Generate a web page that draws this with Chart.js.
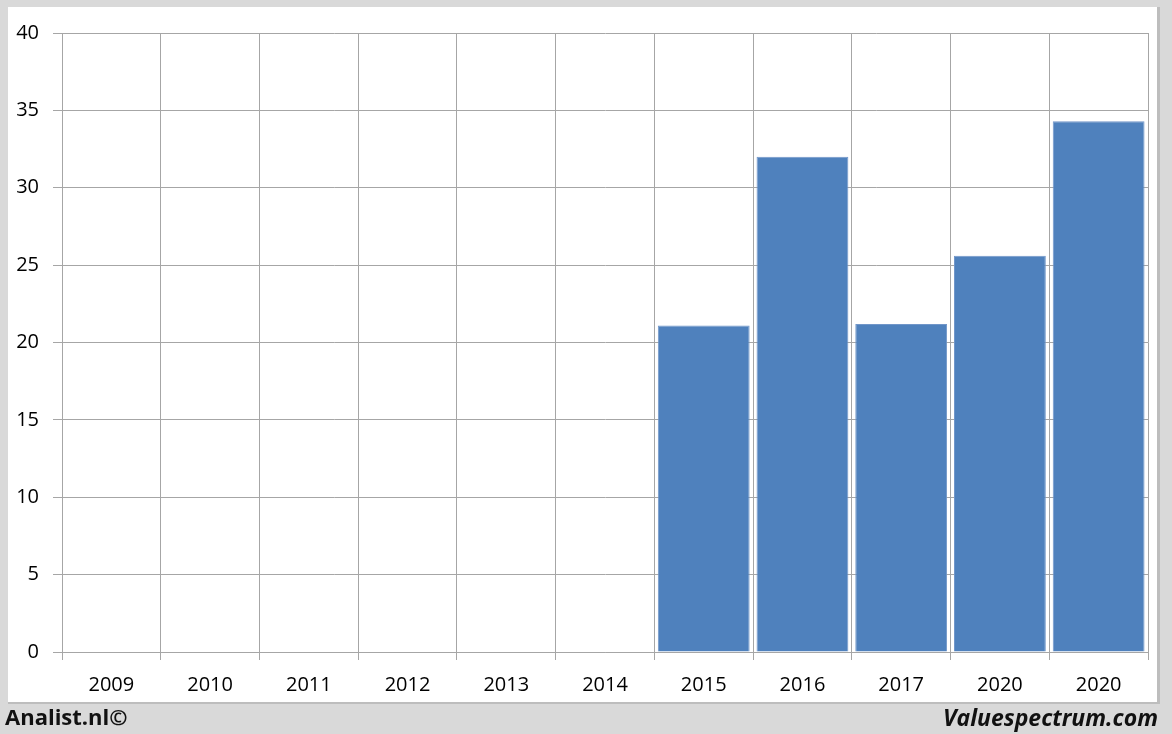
<!DOCTYPE html>
<html>
<head>
<meta charset="utf-8">
<script src="https://cdn.jsdelivr.net/npm/chart.js@4"></script>
<style>
    html, body { margin: 0; padding: 0; }
    body { width: 1172px; height: 734px; background: #d9d9d9; position: relative; overflow: hidden; font-family: "Open Sans", "Noto Sans", sans-serif; }
    #panel { position: absolute; left: 8px; top: 7px; width: 1149px; height: 695px; background: #fff; border-right: 3px solid #bdbdbd; border-bottom: 2px solid #bdbdbd; box-sizing: content-box; }
    #wrap { position: absolute; left: 0; top: 0; width: 1172px; height: 734px; }
    .pie { position: absolute; top: 701px; font-weight: bold; font-size: 22px; color: #111; }
    #izq { left: 5px; }
    #der { right: 14px; font-style: italic; font-size: 23px; }
</style>
</head>
<body>
<div id="panel"></div>
<div id="wrap"><canvas id="grafica" width="1172" height="734"></canvas></div>
<div class="pie" id="izq">Analist.nl©</div>
<div class="pie" id="der">Valuespectrum.com</div>
<script>
// Datos
const anios = ['2009', '2010', '2011', '2012', '2013', '2014', '2015', '2016', '2017', '2020', '2020'];
const valores = [null, null, null, null, null, null, 21.1, 32.0, 21.2, 25.6, 34.3];
const ticksY = [0, 5, 10, 15, 20, 25, 30, 35, 40];

const colorGrid = '#a6a6a6';
const fuenteTicks = { family: '"Open Sans", "Noto Sans", sans-serif', size: 20 };

const ctx = document.getElementById('grafica').getContext('2d');
new Chart(ctx, {
    type: 'bar',
    data: {
        labels: anios,
        datasets: [{
            data: valores,
            backgroundColor: '#4f81bd',
            borderColor: '#7196c9',
            borderWidth: 1,
            barPercentage: 0.93,
            categoryPercentage: 1.0
        }]
    },
    options: {
        responsive: false,
        animation: false,
        layout: { padding: { top: 33, right: 24, bottom: 0, left: 0 } },
        scales: {
            x: {
                grid: { color: colorGrid, offset: true, tickLength: 8 },
                border: { color: colorGrid },
                ticks: { color: '#000', font: fuenteTicks, padding: 13, maxRotation: 0, autoSkip: false },
                afterFit: (scale) => { scale.height = 82; }
            },
            y: {
                min: 0,
                max: 40,
                afterBuildTicks: (scale) => { scale.ticks = ticksY.map(v => ({ value: v })); },
                grid: { color: colorGrid, tickLength: 9 },
                border: { color: colorGrid },
                ticks: { color: '#000', font: fuenteTicks, padding: 14 },
                afterFit: (scale) => { scale.width = 62; }
            }
        },
        plugins: {
            legend: { display: false },
            tooltip: { enabled: false }
        }
    }
});
</script>
</body>
</html>
